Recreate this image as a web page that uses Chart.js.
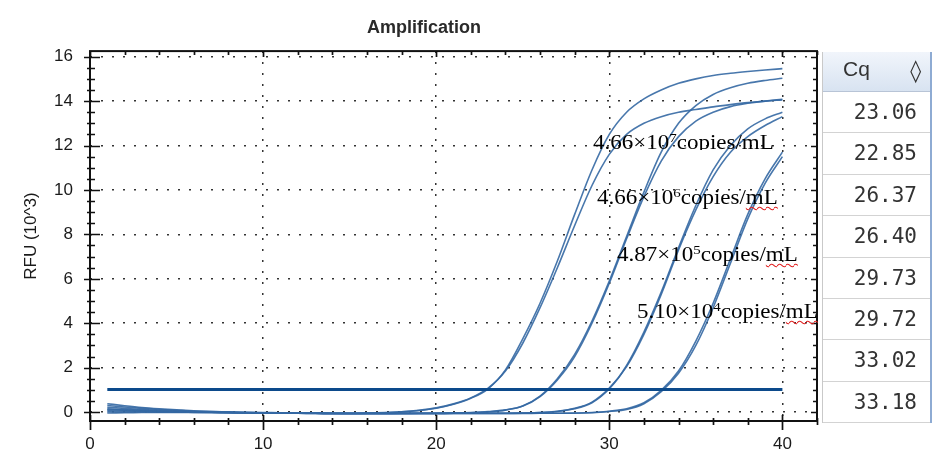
<!DOCTYPE html>
<html lang="en">
<head>
  <meta charset="UTF-8">
  <title>Amplification</title>
  <script src="https://cdn.jsdelivr.net/npm/chart.js@4.4.1/dist/chart.umd.min.js"></script>
  <style>
    html, body { margin: 0; padding: 0; background: #fff; }
    body { width: 944px; height: 464px; position: relative; overflow: hidden; }
    #wrap { position: absolute; left: 0; top: 0; width: 848px; height: 464px; }
    .tag {
      position: absolute;
      font-family: 'Liberation Serif', 'Times New Roman', serif;
      font-size: 20px;
      line-height: 20px;
      color: #000;
      white-space: nowrap;
      transform: scaleX(1.15);
      transform-origin: 0 0;
    }
    .tag sup { font-size: 13px; line-height: 0; vertical-align: 7px; }
    .tag .sp { text-decoration: underline wavy #e02020; text-decoration-thickness: 1px; text-underline-offset: 2px; }
    #t1 { height: 18px; overflow: hidden; }
    /* Cq table on the right */
    #cq { position: absolute; left: 822px; top: 52px; width: 107px; border-left: 1px solid #c9c9c9; border-right: 2px solid #8eabd3; }
    #cq .hd {
      height: 40px; box-sizing: border-box; position: relative;
      border-bottom: 1px solid #b8c4d6;
      background: linear-gradient(#f1f5fb, #d8e3f1);
      color: #333;
    }
    #cq .hd .t { position: absolute; left: 20px; top: 5px; font: 21px 'Liberation Sans', Arial, sans-serif; }
    #cq .hd .dia { position: absolute; right: 9px; top: 6px; font: 22px 'DejaVu Sans', sans-serif; }
    #cq .row {
      height: 41.4px; box-sizing: border-box;
      border-top: 1px solid #fff; border-bottom: 1px solid #d3d3d3;
      text-align: right; padding-right: 13px;
      font: 21px 'DejaVu Sans Mono', monospace; line-height: 39px; color: #333;
    }
  </style>
</head>
<body>
  <div id="wrap"><canvas id="amp" width="848" height="464"></canvas></div>

  <div class="tag" id="t1" style="left:593px; top:132px;">4.66×10<sup>7</sup>copies/mL</div>
  <div class="tag" id="t2" style="left:597px; top:187px;">4.66×10<sup>6</sup>copies/<span class="sp">mL</span></div>
  <div class="tag" id="t3" style="left:617px; top:244px;">4.87×10<sup>5</sup>copies/<span class="sp">mL</span></div>
  <div class="tag" id="t4" style="left:637px; top:301px;">5.10×10<sup>4</sup>copies/<span class="sp">mL</span></div>

  <div id="cq">
    <div class="hd"><span class="t">Cq</span><span class="dia">◊</span></div>
    <div id="cqRows"></div>
  </div>

  <script>
    // cycle numbers and RFU (x10^3)
    const cycles = [1,2,3,4,5,6,7,8,9,10,11,12,13,14,15,16,17,18,19,20,21,22,23,24,25,26,27,28,29,30,31,32,33,34,35,36,37,38,39,40];

    const rfu1a = [0.38,0.29,0.21,0.15,0.10,0.06,0.03,0.01,-0.01,-0.02,-0.03,-0.04,-0.04,-0.05,-0.05,-0.04,-0.02,0.01,0.07,0.17,0.35,0.62,1.05,1.9,3.3,4.9,6.8,8.9,10.9,12.5,13.5,14.1,14.5,14.8,15.0,15.15,15.25,15.33,15.4,15.46];
    const rfu1b = [0.30,0.23,0.17,0.12,0.08,0.04,0.02,0.00,-0.02,-0.03,-0.04,-0.05,-0.05,-0.06,-0.06,-0.05,-0.03,0.01,0.08,0.19,0.37,0.64,1.08,1.85,3.1,4.7,6.5,8.4,10.2,11.6,12.5,13.0,13.3,13.5,13.62,13.74,13.84,13.93,14.0,14.08];
    const rfu2a = [0.22,0.17,0.12,0.08,0.05,0.03,0.01,-0.01,-0.02,-0.03,-0.04,-0.05,-0.05,-0.05,-0.06,-0.06,-0.06,-0.06,-0.05,-0.05,-0.04,-0.02,0.02,0.10,0.28,0.72,1.5,2.6,4.1,5.9,7.9,9.9,11.7,13.0,13.8,14.3,14.6,14.8,14.93,15.03];
    const rfu2b = [0.15,0.12,0.08,0.05,0.03,0.01,0.00,-0.02,-0.03,-0.04,-0.05,-0.05,-0.05,-0.06,-0.06,-0.06,-0.06,-0.05,-0.05,-0.05,-0.04,-0.03,0.01,0.09,0.27,0.70,1.45,2.5,4.0,5.8,7.8,9.7,11.3,12.4,13.1,13.5,13.75,13.9,14.0,14.05];
    const rfu3a = [0.08,0.06,0.04,0.02,0.01,0.00,-0.01,-0.02,-0.03,-0.04,-0.05,-0.05,-0.05,-0.06,-0.06,-0.06,-0.06,-0.06,-0.06,-0.06,-0.05,-0.05,-0.05,-0.05,-0.04,-0.02,0.04,0.15,0.42,1.05,2.1,3.6,5.4,7.4,9.3,10.9,12.0,12.75,13.2,13.5];
    const rfu3b = [0.02,0.01,0.01,0.00,0.00,-0.01,-0.02,-0.03,-0.04,-0.04,-0.05,-0.05,-0.06,-0.06,-0.06,-0.06,-0.06,-0.06,-0.06,-0.06,-0.05,-0.05,-0.05,-0.05,-0.04,-0.02,0.03,0.17,0.45,1.08,2.05,3.5,5.3,7.3,9.1,10.6,11.7,12.4,12.9,13.3];
    const rfu4a = [-0.04,-0.03,-0.02,-0.01,-0.01,-0.01,-0.02,-0.03,-0.04,-0.05,-0.05,-0.05,-0.06,-0.06,-0.06,-0.06,-0.06,-0.06,-0.06,-0.06,-0.06,-0.06,-0.06,-0.06,-0.05,-0.05,-0.05,-0.04,-0.02,0.04,0.15,0.42,0.98,1.85,3.2,4.9,6.9,8.9,10.5,11.7];
    const rfu4b = [0.12,0.09,0.06,0.04,0.02,0.01,0.00,-0.02,-0.03,-0.04,-0.05,-0.05,-0.05,-0.06,-0.06,-0.06,-0.06,-0.06,-0.06,-0.06,-0.06,-0.06,-0.06,-0.06,-0.06,-0.05,-0.05,-0.05,-0.03,0.03,0.12,0.38,0.92,1.75,3.0,4.7,6.7,8.7,10.3,11.5];

    const thresholdLevel = 1.02;
    const thresholdCycles = [1, 40];

    const xTickValues = [0, 10, 20, 30, 40];
    const yTickValues = [0, 2, 4, 6, 8, 10, 12, 14, 16];
    const cqValues = ['23.06', '22.85', '26.37', '26.40', '29.73', '29.72', '33.02', '33.18'];

    // Cq column
    const rowsBox = document.getElementById('cqRows');
    cqValues.forEach(v => {
      const d = document.createElement('div');
      d.className = 'row';
      d.textContent = v;
      rowsBox.appendChild(d);
    });

    const curves = [rfu1a, rfu1b, rfu2a, rfu2b, rfu3a, rfu3b, rfu4a, rfu4b];
    const toPoints = arr => arr.map((v, i) => ({ x: cycles[i], y: v }));

    const datasets = [{
      label: 'Threshold',
      data: thresholdCycles.map(c => ({ x: c, y: thresholdLevel })),
      borderColor: '#0c4a8b',
      borderWidth: 3,
      pointRadius: 0
    }];
    curves.forEach((c, i) => {
      datasets.push({
        label: 'Well ' + (i + 1),
        data: toPoints(c),
        borderColor: 'rgba(52,104,163,0.9)',
        borderWidth: 1.6,
        pointRadius: 0,
        cubicInterpolationMode: 'monotone'
      });
    });

    // box frame with small tick marks on all four sides
    const framePlugin = {
      id: 'frame',
      afterDraw(chart) {
        const { ctx, chartArea: a, scales } = chart;
        const xs = scales.x, ys = scales.y;
        ctx.save();
        ctx.strokeStyle = '#111';
        ctx.lineWidth = 2;
        ctx.strokeRect(a.left, a.top, a.right - a.left, a.bottom - a.top);
        ctx.lineWidth = 1.7;
        ctx.beginPath();
        for (let v = 0; v <= xs.max; v += 2) {
          const px = Math.round(xs.getPixelForValue(v)) + 0.5;
          const major = v % 10 === 0;
          ctx.moveTo(px, a.bottom - (major ? 6 : 3));
          ctx.lineTo(px, a.bottom + (major ? 9 : 4));
          ctx.moveTo(px, a.top);
          ctx.lineTo(px, a.top + (major ? 6 : 4));
        }
        for (let v = 0; v <= ys.max; v += 0.5) {
          const py = Math.round(ys.getPixelForValue(v)) + 0.5;
          const major = v % 2 === 0;
          ctx.moveTo(a.left - (major ? 6 : 3), py);
          ctx.lineTo(a.left + (major ? 10 : 5), py);
          ctx.moveTo(a.right, py);
          ctx.lineTo(a.right - (major ? 6 : 4), py);
        }
        ctx.stroke();
        ctx.restore();
      }
    };

    Chart.defaults.font.family = "'Liberation Sans', Arial, sans-serif";

    new Chart(document.getElementById('amp'), {
      type: 'line',
      data: { datasets },
      plugins: [framePlugin],
      options: {
        responsive: false,
        animation: false,
        layout: { padding: { left: 31, right: 31 } },
        plugins: {
          legend: { display: false },
          tooltip: { enabled: false },
          title: {
            display: true,
            text: 'Amplification',
            color: '#2a2a2a',
            font: { size: 18, weight: 'bold' },
            padding: { top: 17, bottom: 12.5 }
          }
        },
        scales: {
          x: {
            type: 'linear',
            min: 0,
            max: 42,
            afterBuildTicks: s => { s.ticks = xTickValues.map(v => ({ value: v })); },
            afterFit: s => { s.height = 43; },
            ticks: { color: '#1a1a1a', font: { size: 17 }, padding: 13, maxRotation: 0, autoSkip: false },
            grid: {
              drawTicks: false,
              lineWidth: 1.5,
              color: c => (c.tick && c.tick.value === 0 ? 'rgba(0,0,0,0)' : '#333')
            },
            border: { display: false, dash: [2, 9] }
          },
          y: {
            min: -0.4,
            max: 16.25,
            afterBuildTicks: s => { s.ticks = yTickValues.map(v => ({ value: v })); },
            afterFit: s => { s.width = 59; },
            ticks: { color: '#1a1a1a', font: { size: 17 }, padding: 17 },
            grid: { drawTicks: false, lineWidth: 1.5, color: '#333' },
            border: { display: false, dash: [2, 9] },
            title: {
              display: true,
              text: 'RFU (10^3)',
              color: '#1a1a1a',
              font: { size: 17 },
              padding: { top: -10, bottom: 0 }
            }
          }
        }
      }
    });
  </script>
</body>
</html>
